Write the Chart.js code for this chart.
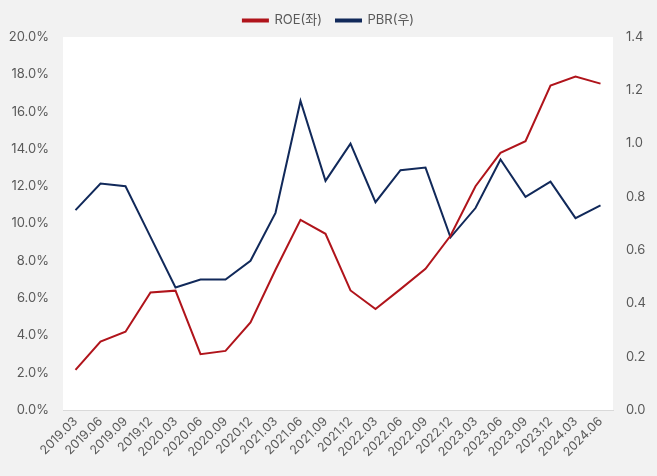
<!DOCTYPE html>
<html>
<head>
<meta charset="utf-8">
<script src="https://cdn.jsdelivr.net/npm/chart.js@4/dist/chart.umd.min.js"></script>
<style>
html,body{margin:0;padding:0;background:#f2f2f2;}
canvas{display:block;}
</style>
</head>
<body>
<canvas id="c" width="657" height="476"></canvas>
<script>
const categories = ["2019.03","2019.06","2019.09","2019.12","2020.03","2020.06","2020.09","2020.12","2021.03","2021.06","2021.09","2021.12","2022.03","2022.06","2022.09","2022.12","2023.03","2023.06","2023.09","2023.12","2024.03","2024.06"];
const roe = [2.15, 3.67, 4.2, 6.3, 6.4, 2.99, 3.17, 4.69, 7.52, 10.2, 9.45, 6.41, 5.41, 6.48, 7.57, 9.34, 12.0, 13.79, 14.41, 17.4, 17.88, 17.5];
const pbr = [0.75, 0.85, 0.84, 0.65, 0.46, 0.49, 0.49, 0.56, 0.74, 1.16, 0.86, 1.0, 0.78, 0.90, 0.91, 0.648, 0.758, 0.94, 0.80, 0.857, 0.72, 0.768];
const seriesNames = ["ROE(좌)", "PBR(우)"];

const FONT = "'Inter', 'Noto Sans CJK KR', sans-serif";
const TXT = '#595959';

const bgPlugin = {
  id: 'bg',
  beforeLayout(chart){
    if (chart.legend && !chart.legend._patched){
      const orig = chart.legend.fit;
      chart.legend.fit = function(){ orig.call(this); this.height = 37; this.minSize && (this.minSize.height = 37); };
      chart.legend._patched = true;
    }
  },
  beforeDraw(chart){
    const ctx = chart.ctx, a = chart.chartArea;
    ctx.save();
    ctx.fillStyle = '#f2f2f2';
    ctx.fillRect(0,0,chart.width,chart.height);
    ctx.fillStyle = '#ffffff';
    ctx.fillRect(a.left, a.top, a.right-a.left, a.bottom-a.top);
    ctx.restore();
  }
};

new Chart(document.getElementById('c'), {
  type: 'line',
  data: {
    labels: categories,
    datasets: [
      {label: seriesNames[0], data: roe, yAxisID: 'y', borderColor: '#b0141b', backgroundColor: '#b0141b', borderWidth: 2, pointRadius: 0, tension: 0},
      {label: seriesNames[1], data: pbr, yAxisID: 'y1', borderColor: '#11295a', backgroundColor: '#11295a', borderWidth: 2, pointRadius: 0, tension: 0}
    ]
  },
  options: {
    responsive: false,
    animation: false,
    layout: {padding: 0},
    plugins: {
      legend: {
        position: 'top',
        labels: {
          font: {family: FONT, size: 13},
          color: TXT,
          boxWidth: 25,
          boxHeight: 2,
          padding: 14
        }
      },
      tooltip: {enabled: false}
    },
    scales: {
      x: {
        offset: true,
        grid: {display: false, drawTicks: false},
        border: {display: true, color: '#d9d9d9', width: 1},
        ticks: {font: {family: FONT, size: 12.5}, color: TXT, minRotation: 45, maxRotation: 45, autoSkip: false, padding: 4},
        afterFit(s){ s.height = 66; }
      },
      y: {
        position: 'left',
        min: 0, max: 20,
        grid: {display: false, drawTicks: false},
        border: {display: false},
        ticks: {stepSize: 2, font: {family: FONT, size: 13}, color: TXT, padding: 14, callback: v => v.toFixed(1) + '%'},
        afterFit(s){ s.width = 63; }
      },
      y1: {
        position: 'right',
        min: 0, max: 1.4,
        grid: {display: false, drawTicks: false},
        border: {display: false},
        ticks: {stepSize: 0.2, font: {family: FONT, size: 13}, color: TXT, padding: 13, callback: v => v.toFixed(1)},
        afterFit(s){ s.width = 44; }
      }
    }
  },
  plugins: [bgPlugin]
});
</script>
</body>
</html>
